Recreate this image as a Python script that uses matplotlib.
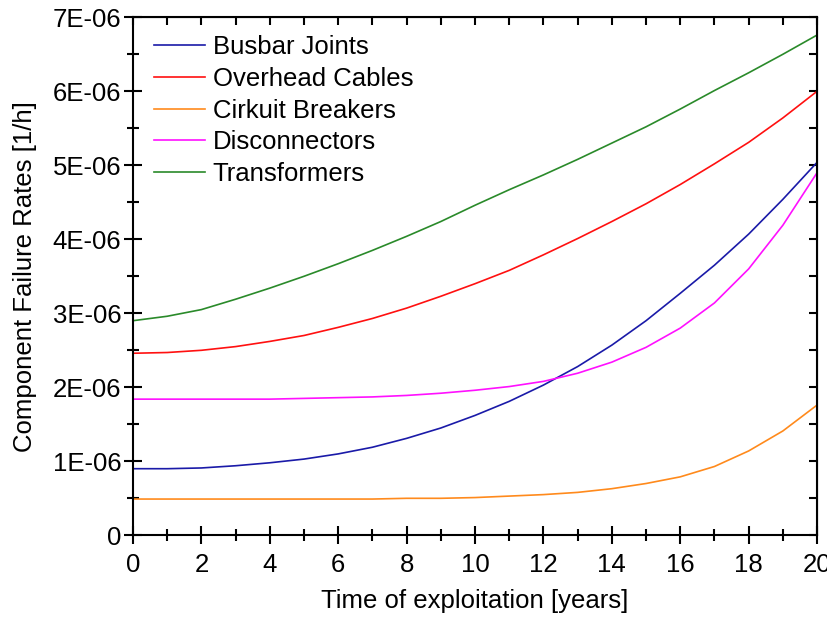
#!/usr/bin/env python3
"""Component failure rates vs. time of exploitation."""
import matplotlib

matplotlib.use("Agg")
import matplotlib.pyplot as plt
import numpy as np
from matplotlib.ticker import FuncFormatter, MultipleLocator

plt.rcParams["font.family"] = ["Liberation Sans", "DejaVu Sans"]

years = list(range(0, 21))

# failure rates, in units of 1E-06 1/h
busbar = [0.90, 0.90, 0.91, 0.94, 0.98, 1.03, 1.10, 1.19, 1.31, 1.45, 1.62,
          1.81, 2.03, 2.28, 2.57, 2.90, 3.27, 3.65, 4.07, 4.54, 5.04]
overhead = [2.46, 2.47, 2.50, 2.55, 2.62, 2.70, 2.81, 2.93, 3.07, 3.23, 3.40,
            3.58, 3.79, 4.01, 4.24, 4.48, 4.74, 5.02, 5.31, 5.64, 6.00]
breakers = [0.49, 0.49, 0.49, 0.49, 0.49, 0.49, 0.49, 0.49, 0.50, 0.50, 0.51,
            0.53, 0.55, 0.58, 0.63, 0.70, 0.79, 0.93, 1.14, 1.41, 1.76]
disconnectors = [1.84, 1.84, 1.84, 1.84, 1.84, 1.85, 1.86, 1.87, 1.89, 1.92, 1.96,
                 2.01, 2.08, 2.19, 2.34, 2.54, 2.80, 3.14, 3.60, 4.19, 4.90]
transformers = [2.90, 2.96, 3.05, 3.19, 3.34, 3.50, 3.67, 3.85, 4.04, 4.24, 4.46,
                4.67, 4.87, 5.08, 5.30, 5.52, 5.76, 6.01, 6.25, 6.50, 6.76]

series = [
    ("Busbar Joints", busbar, "#1a1aa8"),
    ("Overhead Cables", overhead, "#ff1010"),
    ("Cirkuit Breakers", breakers, "#ff8a1c"),
    ("Disconnectors", disconnectors, "#ff10ff"),
    ("Transformers", transformers, "#2a8a2a"),
]

fig = plt.figure(figsize=(8.27, 6.17), dpi=100)
ax = fig.add_axes([0.1608, 0.1324, 0.8272, 0.8396])

t = np.array(years)
for name, vals, col in series:
    ax.plot(t, np.array(vals) * 1e-6, color=col, lw=1.2, label=name)

ax.set_xlim(0, 20)
ax.set_ylim(0, 7e-6)
ax.xaxis.set_major_locator(MultipleLocator(2))
ax.xaxis.set_minor_locator(MultipleLocator(1))
ax.yaxis.set_major_locator(MultipleLocator(1e-6))
ax.yaxis.set_minor_locator(MultipleLocator(0.5e-6))
ax.yaxis.set_major_formatter(
    FuncFormatter(lambda v, p: "0" if abs(v) < 1e-12 else f"{v * 1e6:.0f}E-06"))

for s in ax.spines.values():
    s.set_linewidth(1.5)
ax.tick_params(which="major", direction="inout", length=13, width=1.5,
               labelsize=18.5, top=False, right=False)
ax.tick_params(axis="x", which="major", pad=6)
ax.tick_params(axis="y", which="major", pad=2)
ax.tick_params(which="minor", direction="inout", length=8, width=1.5,
               top=False, right=False)

# inward ticks on top and right
top = ax.secondary_xaxis("top")
top.xaxis.set_major_locator(MultipleLocator(2))
top.xaxis.set_minor_locator(MultipleLocator(1))
top.tick_params(which="both", direction="in", length=6, width=1.5, labeltop=False)
right = ax.secondary_yaxis("right")
right.yaxis.set_major_locator(MultipleLocator(1e-6))
right.yaxis.set_minor_locator(MultipleLocator(0.5e-6))
right.tick_params(which="both", direction="in", length=6, width=1.5, labelright=False)

ax.set_xlabel("Time of exploitation [years]", fontsize=18.5, labelpad=9)
ax.set_ylabel("Component Failure Rates [1/h]", fontsize=18.5, labelpad=11)

ax.legend(loc="upper left", bbox_to_anchor=(0.004, 1.0), frameon=False,
          fontsize=18.5, handlelength=2.0, handletextpad=0.3, labelspacing=0.3,
          borderaxespad=0.3)

fig.savefig("out.png", dpi=100)
